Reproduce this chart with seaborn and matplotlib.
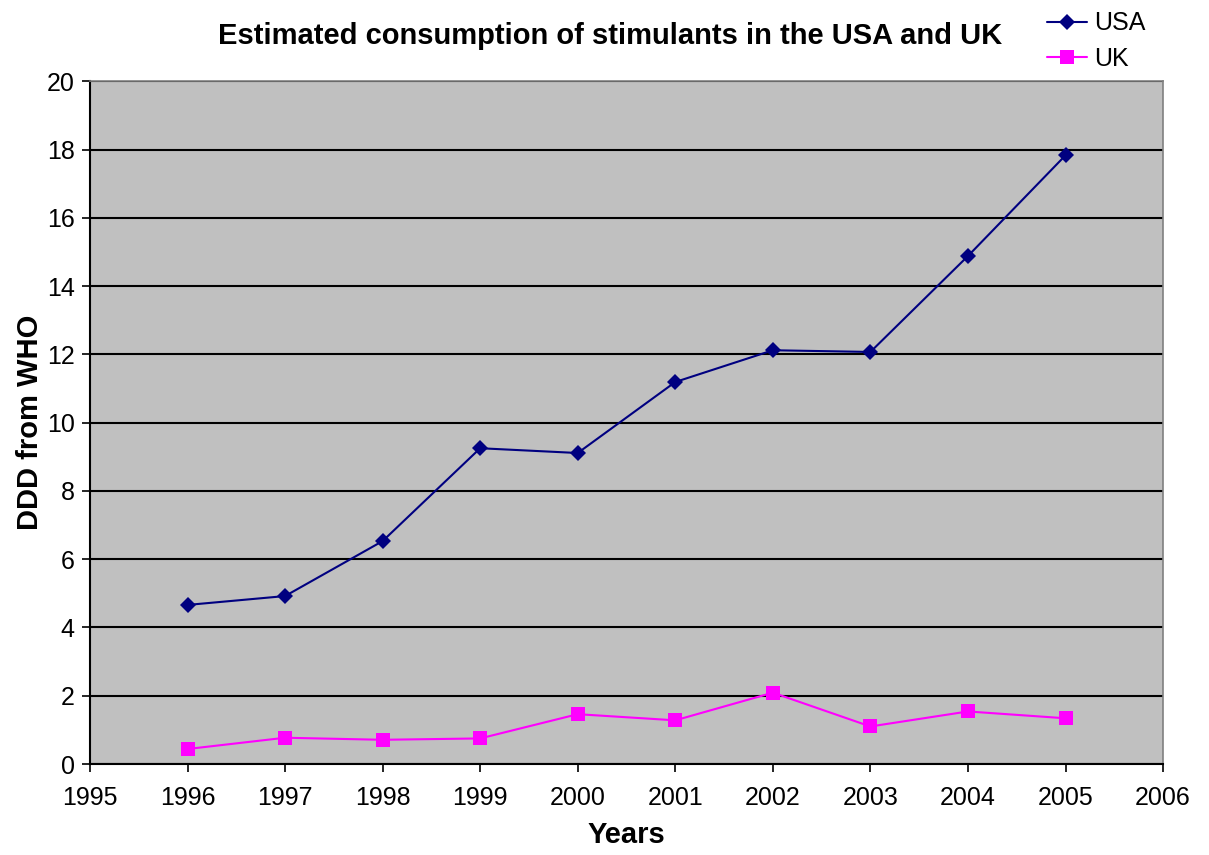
import matplotlib
matplotlib.use("Agg")
import matplotlib.pyplot as plt
import seaborn as sns
import pandas as pd
from matplotlib.lines import Line2D

years = [1996, 1997, 1998, 1999, 2000, 2001, 2002, 2003, 2004, 2005]
usa = [4.66, 4.92, 6.53, 9.25, 9.11, 11.19, 12.12, 12.07, 14.88, 17.83]
uk = [0.44, 0.77, 0.71, 0.75, 1.46, 1.28, 2.09, 1.10, 1.54, 1.34]
x_ticks = list(range(1995, 2007))
y_ticks = list(range(0, 21, 2))

df = pd.DataFrame({
    "Year": years * 2,
    "DDD": usa + uk,
    "Country": ["USA"] * len(years) + ["UK"] * len(years),
})

sns.set_style("white")
plt.rcParams["font.family"] = ["Liberation Sans", "DejaVu Sans"]
plt.rcParams["text.color"] = "black"
plt.rcParams["axes.labelcolor"] = "black"
plt.rcParams["xtick.color"] = "black"
plt.rcParams["ytick.color"] = "black"

fig = plt.figure(figsize=(12.09, 8.55), dpi=100)
ax = fig.add_axes([0.0744, 0.1064, 0.8876, 0.7986])
ax.set_facecolor("#C0C0C0")

colors = {"USA": "#000080", "UK": "#FF00FF"}
sns.lineplot(
    data=df, x="Year", y="DDD", hue="Country", style="Country",
    palette=colors, markers={"USA": "D", "UK": "s"}, dashes=False,
    markersize=8, markeredgewidth=0, linewidth=1.5, ax=ax, legend=False,
)
for line, ms in zip(ax.get_lines(), [8, 10]):
    line.set_markersize(ms)

ax.set_xlim(1995, 2006)
ax.set_ylim(0, 20)
ax.set_xticks(x_ticks)
ax.set_yticks(y_ticks)
ax.tick_params(axis="both", labelsize=18, direction="out", length=6, width=1.2,
               colors="black", bottom=True, left=True)
ax.tick_params(axis="x", pad=10)
ax.tick_params(axis="y", pad=5)
ax.yaxis.grid(True, color="black", linewidth=1.5)
ax.xaxis.grid(False)
ax.set_axisbelow(True)

for side in ["left", "bottom"]:
    ax.spines[side].set_color("black")
    ax.spines[side].set_linewidth(1.5)
for side in ["top", "right"]:
    ax.spines[side].set_visible(True)
    ax.spines[side].set_color("#808080")
    ax.spines[side].set_linewidth(1.2)

ax.set_xlabel("Years", fontsize=21, fontweight="bold", labelpad=8)
ax.set_ylabel("DDD from WHO", fontsize=21, fontweight="bold", labelpad=2)
fig.text(0.505, 0.958, "Estimated consumption of stimulants in the USA and UK",
         ha="center", va="center", fontsize=21, fontweight="bold")

handles = [
    Line2D([], [], color=colors["USA"], marker="D", markersize=8, markeredgewidth=0, linewidth=1.5),
    Line2D([], [], color=colors["UK"], marker="s", markersize=10, markeredgewidth=0, linewidth=1.5),
]
fig.legend(handles, ["USA", "UK"], loc="upper left", bbox_to_anchor=(0.847, 1.013),
           frameon=False, fontsize=18, handlelength=1.6, handletextpad=0.3,
           labelspacing=0.45)

fig.savefig("out.png", dpi=100)
